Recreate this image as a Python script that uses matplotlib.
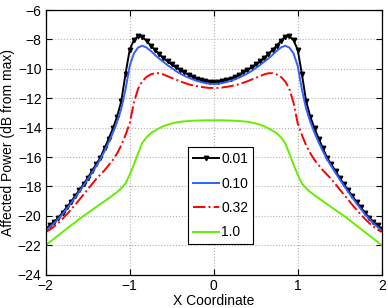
import matplotlib
matplotlib.use("Agg")
import matplotlib.pyplot as plt
import numpy as np

x = [-2.00, -1.95, -1.90, -1.85, -1.80, -1.75, -1.70, -1.65, -1.60, -1.55,
     -1.50, -1.45, -1.40, -1.35, -1.30, -1.25, -1.20, -1.15, -1.10, -1.05,
     -1.00, -0.95, -0.90, -0.85, -0.80, -0.75, -0.70, -0.65, -0.60, -0.55,
     -0.50, -0.45, -0.40, -0.35, -0.30, -0.25, -0.20, -0.15, -0.10, -0.05,
     0.00, 0.05, 0.10, 0.15, 0.20, 0.25, 0.30, 0.35, 0.40, 0.45,
     0.50, 0.55, 0.60, 0.65, 0.70, 0.75, 0.80, 0.85, 0.90, 0.95,
     1.00, 1.05, 1.10, 1.15, 1.20, 1.25, 1.30, 1.35, 1.40, 1.45,
     1.50, 1.55, 1.60, 1.65, 1.70, 1.75, 1.80, 1.85, 1.90, 1.95, 2.00]

p001 = [-20.88, -20.65, -20.42, -20.12, -19.78, -19.42, -19.05, -18.65, -18.25, -17.85,
        -17.42, -16.95, -16.50, -16.05, -15.40, -14.75, -14.05, -13.25, -12.20, -10.35,
        -8.70, -8.05, -7.78, -7.82, -8.10, -8.42, -8.72, -9.00, -9.26, -9.50,
        -9.70, -9.90, -10.08, -10.25, -10.40, -10.54, -10.67, -10.77, -10.85, -10.90,
        -10.92, -10.90, -10.85, -10.77, -10.67, -10.54, -10.40, -10.25, -10.08, -9.90,
        -9.70, -9.50, -9.26, -9.00, -8.72, -8.42, -8.10, -7.82, -7.78, -8.05,
        -8.70, -10.35, -12.20, -13.25, -14.05, -14.75, -15.40, -16.05, -16.50, -16.95,
        -17.42, -17.85, -18.25, -18.65, -19.05, -19.42, -19.78, -20.12, -20.42, -20.65, -20.88]

p010 = [-21.00, -20.75, -20.50, -20.20, -19.88, -19.52, -19.15, -18.75, -18.35, -17.95,
        -17.52, -17.08, -16.62, -16.15, -15.60, -15.00, -14.35, -13.60, -12.70, -11.40,
        -9.80, -8.95, -8.55, -8.43, -8.55, -8.78, -9.05, -9.30, -9.52, -9.75,
        -9.95, -10.15, -10.32, -10.47, -10.60, -10.72, -10.82, -10.90, -10.97, -11.02,
        -11.03, -11.02, -10.97, -10.90, -10.82, -10.72, -10.60, -10.47, -10.32, -10.15,
        -9.95, -9.75, -9.52, -9.30, -9.05, -8.78, -8.55, -8.43, -8.55, -8.95,
        -9.80, -11.40, -12.70, -13.60, -14.35, -15.00, -15.60, -16.15, -16.62, -17.08,
        -17.52, -17.95, -18.35, -18.75, -19.15, -19.52, -19.88, -20.20, -20.50, -20.75, -21.00]

p032 = [-21.10, -20.93, -20.72, -20.48, -20.20, -19.90, -19.58, -19.25, -18.90, -18.55,
        -18.20, -17.85, -17.50, -17.20, -16.90, -16.55, -16.20, -15.75, -15.20, -14.50,
        -13.70, -12.30, -11.35, -10.85, -10.55, -10.38, -10.30, -10.30, -10.38, -10.50,
        -10.62, -10.73, -10.85, -10.95, -11.05, -11.12, -11.18, -11.23, -11.27, -11.30,
        -11.30, -11.30, -11.27, -11.23, -11.18, -11.12, -11.05, -10.95, -10.85, -10.73,
        -10.62, -10.50, -10.38, -10.30, -10.30, -10.38, -10.55, -10.85, -11.35, -12.30,
        -13.70, -14.50, -15.20, -15.75, -16.20, -16.55, -16.90, -17.20, -17.50, -17.85,
        -18.20, -18.55, -18.90, -19.25, -19.58, -19.90, -20.20, -20.48, -20.72, -20.93, -21.10]

p100 = [-22.00, -21.77, -21.55, -21.32, -21.10, -20.88, -20.66, -20.44, -20.22, -20.00,
        -19.80, -19.60, -19.40, -19.20, -19.00, -18.80, -18.60, -18.38, -18.12, -17.80,
        -17.20, -16.50, -15.75, -15.05, -14.65, -14.38, -14.20, -14.05, -13.90, -13.80,
        -13.72, -13.65, -13.60, -13.57, -13.55, -13.53, -13.52, -13.51, -13.50, -13.50,
        -13.50, -13.50, -13.50, -13.51, -13.52, -13.53, -13.55, -13.57, -13.60, -13.65,
        -13.72, -13.80, -13.90, -14.05, -14.20, -14.38, -14.65, -15.05, -15.75, -16.50,
        -17.20, -17.80, -18.12, -18.38, -18.60, -18.80, -19.00, -19.20, -19.40, -19.60,
        -19.80, -20.00, -20.22, -20.44, -20.66, -20.88, -21.10, -21.32, -21.55, -21.77, -22.00]

labels = ["0.01", "0.10", "0.32", "1.0"]
xticks = [-2, -1, 0, 1, 2]
yticks = [-24, -22, -20, -18, -16, -14, -12, -10, -8, -6]

plt.rcParams['font.family'] = ['Liberation Sans', 'DejaVu Sans']
fig = plt.figure(figsize=(3.88, 3.08), dpi=100)
ax = fig.add_axes([45.7/388, 1 - 274.7/308, 336/388, 264.7/308])

ax.plot(x, p001, color='black', lw=1.4, marker='v', ms=3.2, label=labels[0])
ax.plot(x, p010, color='#3060ff', lw=1.4, label=labels[1])
ax.plot(x, p032, color='red', lw=1.4, ls='-.', label=labels[2])
ax.plot(x, p100, color='#66ee00', lw=1.4, label=labels[3])

ax.set_xlim(-2, 2)
ax.set_ylim(-24, -6)
ax.set_xticks(xticks)
ax.set_yticks(yticks)
ax.set_xticklabels([str(t).replace('-', '\u2212') for t in xticks])
ax.set_yticklabels([str(t).replace('-', '\u2212') for t in yticks])
ax.grid(True, ls=':', color='#b0b0b0', lw=0.8)
ax.tick_params(direction='in', top=True, right=True, labelsize=10, length=4, width=0.8, pad=3)
for s in ax.spines.values():
    s.set_linewidth(0.9)
ax.set_xlabel("X Coordinate", fontsize=10, labelpad=1)
ax.set_ylabel("Affected Power (dB from max)", fontsize=10, labelpad=2)

leg = ax.legend(loc='lower left', bbox_to_anchor=(0.4235, 0.115), fontsize=10,
                handlelength=1.9, handletextpad=0.15, labelspacing=0.75,
                borderpad=0.35, borderaxespad=0, fancybox=False, framealpha=1,
                edgecolor='black')
leg.get_frame().set_linewidth(0.8)

fig.savefig("out.png", dpi=100)
